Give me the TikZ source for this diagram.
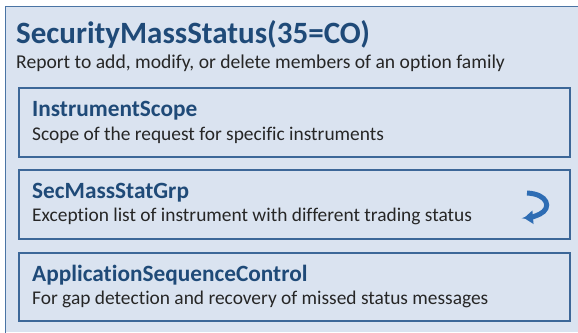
\documentclass[tikz,border=0pt]{standalone}
\usepackage{fontspec}
\setmainfont{Carlito}[Ligatures=NoCommon]
\usetikzlibrary{arrows.meta}
\definecolor{bgfill}{HTML}{DAE3F0}
\definecolor{outerline}{HTML}{4A74A4}
\definecolor{innerline}{HTML}{3C6798}
\definecolor{titleblue}{HTML}{1F4A78}
\definecolor{iconblue}{HTML}{2E6DB4}
\tikzset{
  x=1pt, y=-1pt,
  groupbox/.style={draw=innerline, line width=1.1pt, fill=bgfill},
  maintitle/.style={anchor=base west, inner sep=0pt, text=titleblue, font=\fontsize{31}{34}\selectfont\bfseries},
  subtitle/.style={anchor=base west, inner sep=0pt, text=black!85, font=\fontsize{19.6}{22}\selectfont},
  boxtitle/.style={anchor=base west, inner sep=0pt, text=titleblue, font=\fontsize{23.3}{26}\selectfont\bfseries},
  boxdesc/.style={anchor=base west, inner sep=0pt, text=black!85, font=\fontsize{19.4}{22}\selectfont},
}
\begin{document}
\begin{tikzpicture}
\useasboundingbox (0,0) rectangle (578,332);
\fill[white] (0,0) rectangle (578,332);
% outer box (extends beyond the picture on right and bottom)
\fill[bgfill] (5,6) rectangle (578,332);
\draw[outerline, line width=1.4pt] (5.7,340) -- (5.7,6.7) -- (580,6.7);
\node[maintitle] (title) at (16,43.5) {SecurityMassStatus(35=CO)};
\node[subtitle] (sub) at (16,68.5) {Report to add, modify, or delete members of an option family};
% box 1
\draw[groupbox] (19,88) rectangle (570,157);
\node[boxtitle] (t1) at (32,116.5) {InstrumentScope};
\node[boxdesc] (d1) at (32,140.5) {Scope of the request for specific instruments};
% box 2
\draw[groupbox] (19,170) rectangle (570,239);
\node[boxtitle] (t2) at (32,198.5) {SecMassStatGrp};
\node[boxdesc] (d2) at (32,221.5) {Exception list of instrument with different trading status};
% box 3
\draw[groupbox] (19,253) rectangle (570,321);
\node[boxtitle] (t3) at (32,281) {ApplicationSequenceControl};
\node[boxdesc] (d3) at (32,304) {For gap detection and recovery of missed status messages};
% repeating group icon
\draw[iconblue, line width=5pt, -{Triangle[length=9pt,width=13pt]}]
  (527,193) .. controls (548,194) and (552,208) .. (540,214)
  .. controls (535,216.5) and (530,217.5) .. (524,218);
\end{tikzpicture}
\end{document}
